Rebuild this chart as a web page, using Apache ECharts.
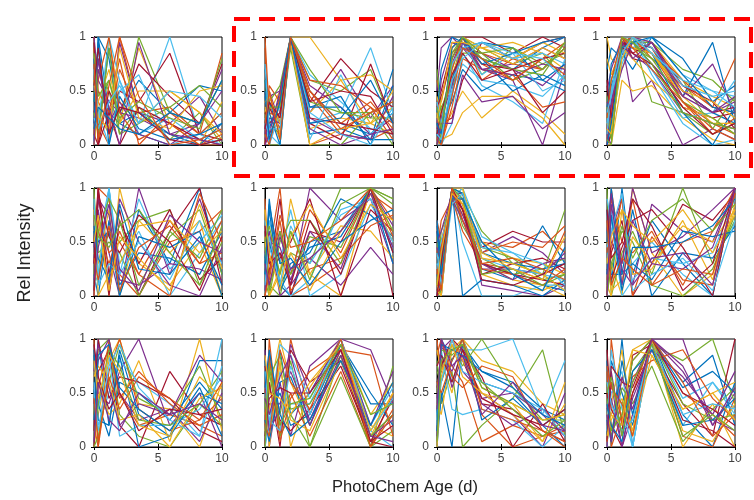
<!DOCTYPE html>
<html><head><meta charset="utf-8">
<script src="https://cdn.jsdelivr.net/npm/echarts@6/dist/echarts.min.js"></script>
<style>html,body{margin:0;padding:0;background:#fff}#c{width:754px;height:500px}</style>
</head><body><div id="c"></div>
<script>
const ages = [0, 0.33, 1.17, 2, 3.5, 5.92, 8.25, 10];
const xTicks = [0, 5, 10];
const yTicks = [0, 0.5, 1];
const xTitle = 'PhotoChem Age (d)';
const yTitle = 'Rel Intensity';
const colors = ['#0072BD','#D95319','#EDB120','#7E2F8E','#77AC30','#4DBEEE','#A2142F'];

const p1 = [[0,1,0.3,0.2,0.1,0,0,0.05],[1,0.2,0,1,0.3,0.1,0,0],[0.9,0,1,0.4,0.2,0.5,0.3,0.05],[0.2,0.8,0.1,0.95,0.3,0.2,0.45,0.1],[0.5,0.3,0.6,0.2,1,0.3,0.2,0.6],[0,0.9,0.2,0.6,0.2,1,0.1,0.3],[0.3,0.5,0.3,0.5,0.4,0.85,0.1,0.05],[0.8,0.1,0.9,0.3,0.6,0.3,0.55,0.5],[0.6,0.4,0.2,0.7,0.3,0.35,0.1,0.85],[0,0.3,0.1,0.2,0.9,0.2,0,0.4],[1,0.6,0.4,0.3,0.25,0.1,0.2,0.7],[0.4,0.7,0.5,0.1,0.35,0.05,0.3,0],[0.7,0.2,1,0.6,0.1,0.25,0.05,0.15],[0.1,0,0.5,0.3,0.75,0.45,0.2,0.75],[0.2,1,0.8,0.2,0.3,0.1,0,0.2],[0.9,0.5,0.3,0.8,0,0.3,0.1,0.3],[0,0.4,0.7,0.2,0.5,0.5,0.3,0.1],[0.5,0.8,0.2,0.4,0.1,0,0.2,0.5],[0.3,0.1,0.9,0.1,0.2,0.35,0.55,0.35],[0.7,0.3,0,0.5,0.65,0,0.1,0],
  [0.95,0,0.3,0,0.35,0.2,0.05,0],[0.4,0.95,0,0.45,0.15,0.05,0.1,0.2],[0.1,0.6,1,0.3,0.05,0.2,0,0.1],[0.6,0.25,0.15,0.9,0.25,0.15,0.5,0.55],[0,0.7,0.35,0,0.95,0.1,0.05,0],[0.85,0.45,0.6,0.25,0.4,0.25,0.15,0.8],[0.25,0.15,0.4,0.55,0.2,0.5,0.45,0.25],[0.55,0.9,0.1,0.35,0.3,0.05,0,0.05],[0.15,0.35,0.25,0.15,0.1,0.3,0.2,0.6],[0.75,0.05,0.55,1,0.45,0,0.05,0.15]];
const p2 = [[0.2,0.4,0.1,1,0.5,0.2,0.1,0.3],[0.9,0,0.4,1,0,0.1,0.05,0.15],[0.4,0.3,0.5,1,1,0.6,0.2,0.1],[0.1,0.5,0.2,1,0.3,0.7,0.25,0.55],[0.3,0,0,1,0.6,0.5,0.7,0.2],[0,0.2,0.35,1,0.2,0.3,0.9,0.3],[0.5,0.1,0.3,0.95,0.4,0.8,0.5,0.35],[0.7,0.4,0.2,1,0.1,0.15,0.05,0.7],[0,0.55,0.4,1,0.45,0.1,0.35,0.05],[0.35,0.3,0.05,1,0.3,0.6,0.65,0.5],[0.15,0.45,0.5,1,0.55,0.35,0.1,0.25],[0.6,0.2,0.1,0.9,0,0,0.3,0.4],[0.25,0,0.3,1,0.65,0.4,0.15,0.1],[0,0.35,0.15,1,0.2,0.05,0.75,0.2],[0.45,0.15,0.45,1,0.35,0.45,0,0.55],[1,0.3,0.25,0.98,0.5,0.2,0.4,0.15],[0.3,0.5,0.1,1,0.15,0.25,0.2,0.35],[0.05,0.25,0.2,0.95,0.25,0.1,0.05,0.45],[0.5,0.4,0.55,1,0.4,0.3,0.3,0],[0.2,0.1,0,1,0.05,0.65,0.1,0.3],
  [0.3,0.2,0.3,1,0.25,0.2,0.15,0.1],[0.6,0.3,0,1,0.35,0.35,0.05,0.05],[0.1,0,0.45,1,0.6,0.55,0.35,0.2],[0.4,0.45,0.2,0.95,0,0.15,0.2,0.5],[0,0.1,0.5,1,0.15,0,0.1,0.15],[0.25,0.35,0.35,1,0.7,0.3,0.25,0.25],[0.75,0.15,0.15,1,0.3,0.1,0,0.35],[0.15,0.4,0.25,0.98,0.4,0.5,0.45,0.1],[0.5,0.05,0.4,1,0.2,0.25,0.6,0.2],[0.2,0.5,0.05,1,0.5,0.15,0.3,0.4]];
const p3 = [[0.1,0,0.5,0.9,0.8,0.7,0.9,1],[0.3,0.2,0.8,1,0.6,0.8,0.7,0.9],[0,0.1,0.3,0.5,0.25,0.5,0.3,0.1],[0.5,0.9,1,0.9,0.7,0.6,0,0.7],[0.2,0.3,0.6,1,0.9,0.75,0.85,0.6],[0,0,0.2,0.85,0.55,0.4,0.2,0.8],[0.4,0.5,0.9,1,1,0.85,1,0.9],[0.1,0.2,0.4,0.7,0.5,0.65,0.6,0.5],[0.6,0.4,0.85,0.95,0.75,0.6,0.8,0.95],[0,0.05,0.1,0.3,0.45,0.45,0.25,0],[0.2,0.6,0.95,0.9,0.85,0.7,0.55,0.75],[0.7,0.3,0.7,1,0.65,0.9,0.75,0.85],[0.15,0.1,0.5,0.75,0.6,0.55,0.45,0.65],[0,0.2,0.25,0.6,0.95,0.8,0.95,1],[0.3,0.7,1,0.95,0.8,0.5,0.65,0.55],[0.05,0,0.35,0.8,0.7,0.65,0.35,0.4],[0.45,0.25,0.65,0.9,0.9,0.95,0.85,0.7],[0.1,0.15,0.75,1,0.7,0.75,0.9,0.8],[0.25,0.35,0.55,0.85,0.85,0.6,0.7,0.95],[0,0.1,0.45,0.95,0.65,0.85,0.5,0.6],[0.35,0.45,0.8,1,0.75,0.7,0.8,0.85],[0.2,0,0.6,0.9,0.95,0.9,0.6,0.75],
  [0.05,0.15,0.7,1,0.85,0.75,0.7,0.9],[0.3,0.05,0.9,1,0.9,0.8,0.95,0.85],[0.15,0.25,0.55,0.95,0.7,0.65,0.75,0.7],[0,0.1,0.85,1,0.8,0.7,0.65,0.95],[0.4,0.2,0.75,0.9,0.95,0.8,0.85,0.75],[0.1,0.3,0.65,0.85,0.6,0.7,0.3,0.5],[0.2,0.1,0.9,1,0.75,0.85,0.95,1],[0.05,0,0.45,0.9,0.8,0.6,0.8,0.65],[0.25,0.4,0.95,0.95,0.9,0.75,0.9,0.8],[0,0.2,0.2,0.65,0.4,0.45,0.15,0.3],[0.35,0.15,0.8,1,0.85,0.9,0.7,0.9],[0.1,0.05,0.6,0.8,0.95,0.85,0.8,0.6]];
const p4 = [[0,0.2,0.9,1,0.9,0.5,0.3,0.2],[0.3,0.5,1,0.95,0.85,0.4,0.2,0.1],[1,0.8,0.7,1,0.95,0.6,0.45,0.35],[0.1,0,0.95,0.4,0.6,0,0.15,0.05],[0.4,0.6,0.9,1,0.4,0.3,0.1,0.2],[0.2,0.3,0.85,0.9,1,0.65,0.5,0.45],[0,0.1,1,0.8,0.75,0.35,0.25,0.3],[0.7,0.9,0.8,0.95,0.9,0.45,0.95,0.2],[0.15,0.4,0.95,1,0.8,0.55,0.35,0.8],[0,0,0.6,0.5,0.55,0.25,0.05,0],[0.5,0.7,1,0.85,0.7,0.3,0.2,0.15],[0.25,0.45,0.9,0.95,0.95,0.7,0.6,0.4],[0.05,0.15,0.75,1,0.65,0.2,0,0.05],[0.6,0.3,0.95,0.9,0.85,0.5,0.3,0.35],[0.35,0.55,0.85,0.7,1,0.8,0.4,0.55],[0,0.25,1,1,0.9,0.4,0.1,0.25],[0.8,0.65,0.9,0.8,0.6,0.35,0.25,0.1],[0.1,0.35,0.7,0.95,0.75,0.45,0.75,0.3],[0.45,0.2,1,0.9,0.8,0.6,0.15,0.45],[0.2,0.5,0.8,1,0.7,0.25,0.3,0.6],[0,0.1,0.9,0.85,0.95,0.55,0.4,0.15],[0.3,0.75,0.95,1,0.85,0.3,0,0.35],
  [0.05,0.3,0.95,1,0.9,0.6,0.35,0.3],[0.2,0.15,1,0.9,0.85,0.45,0.2,0.2],[0,0.4,0.85,1,0.95,0.5,0.3,0.4],[0.35,0.05,0.9,0.95,0.8,0.4,0.25,0.1],[0.1,0.5,1,1,0.9,0.55,0.45,0.5],[0.55,0.25,0.95,0.85,0.75,0.35,0.1,0.2],[0,0.2,0.9,0.95,1,0.65,0.35,0.3],[0.25,0.6,1,0.9,0.7,0.4,0.15,0.05],[0.15,0.1,0.8,1,0.85,0.5,0.4,0.25],[0.4,0.35,0.95,0.8,0.95,0.45,0.3,0.45],[0.05,0,1,0.95,0.75,0.3,0.2,0.15],[0.3,0.45,0.85,1,0.85,0.6,0.5,0.35]];
const p5 = [[0.6,0.1,1,0,0.8,0.3,1,0.2],[0,1,0.9,0.2,0,0.5,0.6,0.8],[0.8,0.7,0,1,0.3,0.1,0.5,0],[0.3,0.9,0.4,0,1,0.2,0.9,0.3],[1,0.2,0.6,0.5,0.7,0.8,0.1,0.5],[0,0.5,1,0.3,0.6,0,0.4,0.7],[0.5,1,0.2,0.8,0,0.6,1,0.1],[0.2,0,0.7,0.1,0.4,0.35,0.2,0.6],[0.7,0.6,0.3,0.6,0.2,0.7,0.3,0.4],[0.4,0.3,0.8,0,0.7,0.4,0.7,0],[0,0.8,0.1,0.9,0.5,0.1,0,0.45],[0.9,0.4,0.5,0.4,0,0.55,0.8,0.2],[0.1,0.2,1,0.2,0.9,0.25,0.5,0.75],[0.3,1,0,0.7,0.3,0.8,0.15,0.35],[0.6,0.5,0.6,0,0.55,0.45,0.6,0],[0,0.7,0.4,0.5,0.2,0,0.95,0.5],[0.8,0,0.2,0.3,0.65,0.7,0.4,0.6],[0.45,0.9,0.75,0.15,0.1,0.3,0.25,0.15],
  [0.2,0.6,0.9,0.7,0.1,0.6,0.35,0.8],[0.9,0.1,0.3,0.2,0.5,0.15,0.7,0.3],[0.05,0.95,0.55,0.4,0.75,0.5,0.05,0.55],[0.65,0.35,0.15,0.85,0.25,0.2,0.55,0.1],[0.35,0.15,0.65,0.05,0.45,0.65,0.3,0.7],[0.5,0.75,0.05,0.55,0.35,0.05,0.85,0.25],[0.15,0.45,0.85,0.25,0.05,0.75,0.5,0.4],[0.75,0.55,0.45,0.65,0.8,0.4,0.1,0.65]];
const p6 = [[0.3,0.9,0.1,0,0.5,0.6,1,0.4],[0,0.4,1,0,0.1,0.3,0.95,0.8],[0.8,0,0.2,0.9,0.2,0,1,0.6],[0.1,0.3,0.6,0.1,1,0.7,0.9,0.3],[0.5,0.1,0,0.4,0.3,1,1,0.9],[0,0.7,0.3,0.8,0,0.2,0.85,0.5],[0.6,0.2,0.9,0,0.6,0.5,1,0],[0.2,0.5,0.1,0.3,0.4,0.9,0.75,0.55],[0.9,0.1,0.4,0.2,0.8,0.4,1,0.7],[0,0.35,0.2,0.6,0.2,0.65,0.6,0.35],[0.4,0.6,0,0.1,0.35,0.1,0.45,0.2],[0.15,0,0.5,0.7,0.7,0.3,1,0.85],[0.7,0.45,0.15,0,0.15,0.8,0.9,0.45],[0,0.25,0.35,0.5,0.9,0,0.8,0.6],[0.35,0.8,0.05,0.25,0.45,0.55,1,0.3],[0.25,0.15,0.7,0.05,0.25,0.35,0.65,0.75],[0.55,0,0.25,0.4,0.05,0.6,0.95,0.5],[0.05,0.5,0.45,0.15,0.6,0.25,1,0.65],
  [0.45,0.05,0.6,0.2,0.55,0.45,1,0.6],[0.1,0.55,0.1,0.65,0.3,0.75,0.9,0.5],[0.65,0.3,0.4,0.1,0.7,0.2,1,0.4],[0.2,0.85,0.3,0.35,0.1,0.5,0.7,0.8],[0,0.2,0.75,0.45,0.5,0.7,1,0.55],[0.8,0.4,0.05,0.55,0.85,0.35,0.85,0.7],[0.3,0.1,0.55,0.25,0.35,0.6,0.95,0.45],[0.5,0.65,0.2,0.6,0.15,0.85,1,0.9]];
const p7 = [[0.2,0,1,0.8,0.3,0.2,0.1,0.05],[0.7,0.5,0.95,0.9,0.5,0.45,0.6,0.4],[0,0.1,0.9,1,0.2,0.1,0.05,0.15],[0.5,0.3,1,0.7,0.4,0.55,0.4,0.2],[0.1,0.6,0.85,0.95,0.6,0.3,0.2,0.8],[0.3,0,1,0.5,0,0,0.1,0.1],[0.6,0.4,0.95,0.85,0.45,0.6,0.5,0.5],[0,0.2,1,0.9,0.25,0.15,0.65,0.3],[0.4,0.7,0.9,0.6,0.3,0.25,0.15,0.6],[0.15,0.1,1,0.75,0.5,0.35,0.3,0.2],[0,0.35,0.95,0.95,0.1,0.05,0,0.1],[0.55,0.05,1,0.65,0.35,0.2,0.25,0.35],[0.25,0.5,0.9,1,0.55,0.4,0.2,0.05],[0.05,0.15,0.95,0.8,0.2,0.3,0.35,0.25],[0.7,0.25,1,0,0.15,0.1,0,0.15],[0.35,0.45,0.85,0.9,0.4,0.5,0.45,0.65],[0.1,0,1,0.85,0.3,0.15,0.1,0],[0.45,0.3,0.9,0.7,0.25,0.25,0.2,0.4],[0,0.05,1,0.95,0.45,0.35,0.15,0.2],
  [0.3,0.2,1,0.9,0.35,0.25,0.2,0.15],[0,0.1,0.95,0.8,0.3,0.2,0.15,0.1],[0.65,0.35,1,0.95,0.4,0.3,0.25,0.3],[0.2,0.45,0.9,0.85,0.25,0.2,0.1,0.25],[0.05,0,1,1,0.35,0.3,0.2,0.05],[0.5,0.6,0.95,0.75,0.3,0.15,0.3,0.35],[0.15,0.25,1,0.9,0.2,0.25,0.1,0.2],[0.4,0.1,0.85,0.95,0.45,0.4,0.3,0.1],[0,0.3,1,0.8,0.15,0.1,0.2,0.3],[0.6,0.2,0.9,0.9,0.5,0.2,0.05,0.45],[0.25,0.05,1,0.7,0.3,0.35,0.25,0.15],[0.1,0.4,0.95,0.85,0.4,0.25,0.15,0.55]];
const p8 = [[0.8,0.1,1,0.2,0.7,0.3,0,1],[0,1,0.3,0.9,0.1,0.5,0.6,0.9],[0.5,0.3,0,1,0.4,0,0.2,0.8],[0.2,0.6,0.9,0.1,0.85,0.6,0.5,1],[1,0,0.4,0.6,0.2,1,0.3,0.7],[0.3,0.8,0.1,0.3,0.5,0.2,0,1],[0,0.4,0.7,0,0.3,0.85,0.7,0.95],[0.6,0.2,0.2,0.8,0,0.4,0.35,0.65],[0.4,0.9,0.5,0.4,0.6,0.1,0.6,1],[0.1,0,0.8,0.2,0.25,0.7,0.15,0.85],[0.7,0.5,0.3,1,0.4,0.55,0.8,1],[0,0.3,0.6,0.5,0.1,0,0.25,0.75],[0.9,0.7,0,0.15,0.35,0.3,0.4,0.9],[0.25,0.15,0.45,0.7,0.8,0.45,0,1],[0.5,1,0.2,0.3,0.15,0.6,0.55,0.6],[0.15,0.45,0.9,0,0.55,0.15,0.1,0.95],[0.35,0.05,0.15,0.55,0.3,0.65,0.5,0.8],
  [0.6,0.95,0.1,0.7,0.3,0.25,0.45,1],[0.05,0.25,0.65,0.35,0.7,0.9,0.6,0.85],[0.45,0.6,0.95,0.05,0.2,0.35,0.05,0.7],[0.8,0.35,0.5,0.9,0.65,0.05,0.3,1],[0.2,0.75,0.05,0.45,0.45,0.5,0.65,0.9],[0.7,0.1,0.35,0.25,0.1,0.25,0.2,0.95],[0.3,0.55,0.8,0.65,0.5,0.8,0.4,0.75],[0,0.85,0.25,0.1,0.35,0.4,0.1,1]];
const p9 = [[0.5,1,0.2,0.9,0.3,0.1,0.8,0.8],[1,0,1,0.5,0.2,0.3,0.2,0.1],[0,0.3,0.8,1,0.4,0.35,0,0.6],[0.8,0.5,0.4,0.7,1,0.2,0.5,0],[0.3,0.9,1,0.3,0.1,0,0.4,0.7],[0.6,0.2,0.5,0.8,0.6,0.4,0.1,1],[0,0.7,0.9,0.2,0,0.7,0.3,0.2],[0.9,0.4,0.1,0.6,0.5,0.25,0.6,0.35],[0.2,0,0.7,1,0.35,0.15,0.25,0.45],[0.7,0.6,0.3,0.4,0.8,0.05,1,0.15],[0.4,0.8,1,0.5,0.25,0.35,0.05,0.5],[0,0.1,0.6,0.95,0.45,0.3,0.75,0.25],[0.55,0.35,0.85,0.1,0.2,0.2,0.35,0.65],[0.15,1,0.45,0.65,0.6,0.45,0.15,0.05],[0.85,0.25,0.2,0.85,0,0.1,0.5,0.4],[0.3,0.55,0.95,0.45,0.7,0.4,0.2,0.3],[0.65,0.75,0.6,0.25,0.3,0,0.45,0.55],
  [0.7,0.95,0.55,0.2,0.4,0.3,0.85,0.6],[0.1,0.4,0.9,0.75,0.25,0.2,0.4,0.2],[0.5,0.15,0.75,0.95,0.55,0.25,0.1,0.75],[0.95,0.65,0.35,0.5,0.15,0.35,0.3,0.35],[0.25,0.85,0.95,0.55,0.35,0.15,0.55,0.1],[0.45,0.05,0.65,0.35,0.65,0.45,0.25,0.6],[0.8,0.45,0.85,0.7,0.2,0.1,0.65,0.45],[0.05,0.6,0.25,0.15,0.5,0.3,0.4,0.25]];
const p10 = [[0.7,0.2,0.9,0.3,0.5,1,0.1,0.3],[0,1,0.1,1,0.3,0.95,0,0.5],[0.3,0.5,1,0.6,0.2,0.9,0.2,0.1],[0.9,0,0.6,0.1,0.75,1,0.9,0.4],[0.1,0.8,0.3,0.8,0,0.85,0,0.75],[0.5,0.1,0.7,0.4,0.4,1,0.15,0],[0,0.6,0,0.9,0.6,0.8,0.05,0.45],[0.8,0.3,0.5,0.2,0.3,0.95,0.5,0.2],[0.2,0.9,0.2,0.5,0.1,0.7,0,0.35],[0.6,0,0.8,0,0.55,1,0.3,0.6],[0.05,0.4,0.4,0.7,0.25,0.9,0.1,0.25],[0.4,0.7,0.1,0.3,0,0.65,0,0.15],[0,0.2,0.95,0.85,0.45,1,0.2,0.55],[0.75,0.55,0.25,0.15,0.35,0.75,0.05,0],[0.25,0.05,0.6,0.65,0.2,0.95,0.4,0.4],[0.5,0.85,0.05,0.45,0.7,0.9,0.85,0.1],[0.15,0.35,0.75,0.25,0.15,0.8,0.1,0.5],[0.6,0.15,0.35,0.95,0.5,1,0.2,0.7],
  [0.35,0.65,0.85,0.35,0.4,0.85,0.1,0.3],[0.7,0.25,0.15,0.75,0.3,1,0.15,0.45],[0.1,0.45,0.55,0.5,0.5,0.9,0.05,0.2],[0.55,0.9,0.3,0.1,0.25,0.8,0.2,0.6],[0.2,0.1,0.9,0.6,0.35,1,0,0.3],[0.85,0.5,0.45,0.3,0.6,0.95,0.15,0.5],[0.45,0.3,0.65,0.85,0.2,0.85,0.1,0.05],[0,0.75,0.2,0.4,0.45,0.95,0.3,0.4]];
const p11 = [[0.3,1,0.8,1,0.6,0.5,0.2,0],[1,0.6,0.9,0.9,0.3,0,0.1,0.2],[0,0.8,0.5,1,0.8,0.7,0.4,0.3],[0.5,0.9,1,0.7,0.5,0.3,0,0.5],[0.8,0.4,0.7,0,0.2,0.45,0.9,0.1],[0.2,1,0.6,0.9,0.9,1,0.3,0.8],[0.6,0.7,1,0.8,0.4,0.35,0.15,0.05],[0,0.5,0,0.95,0.7,0.6,0.35,0.25],[0.9,0.8,0.75,0.6,0.05,0.2,0.1,0.15],[0.4,0.3,0.9,1,0.55,0.4,0.05,0.4],[0.1,1,0.55,0.85,0.45,0.5,0.3,0.1],[0.7,0.6,0.95,0.75,1,0.55,0.25,0.3],[0.25,0.9,0.35,0.3,0.35,0.25,0,0.2],[0.55,0.75,1,0.9,0.65,0,0.4,0.05],[0.15,0.45,0.8,1,0.25,0.45,0.2,0.35],[0.85,1,0.65,0.55,0.75,0.65,0.15,0],[0,0.65,1,0.8,0.5,0.3,0.05,0.6],[0.45,0.85,0.7,0.95,0.4,0.2,0.35,0.15],
  [0.5,0.9,0.85,0.95,0.55,0.4,0.25,0.25],[0.3,0.6,1,0.7,0.6,0.5,0.35,0.1],[0.75,0.85,0.6,0.9,0.45,0.3,0.2,0.35],[0.15,0.95,0.9,0.85,0.7,0.55,0.3,0.2],[0.6,0.5,0.8,1,0.35,0.25,0.15,0.05],[0.9,0.7,0.95,0.65,0.5,0.4,0.25,0.3],[0.35,1,0.75,0.85,0.3,0.6,0.2,0.15],[0.05,0.8,0.9,0.95,0.6,0.35,0.1,0.25]];
const p12 = [[0.8,0,1,0,1,0.3,0,0.6],[0,1,0.2,0.5,1,0.5,0.3,0.1],[0.4,0.3,0.6,0.9,1,0,0.4,0],[0.2,0.6,0,0.3,1,1,0.2,0.5],[0.6,0.1,0.4,0.7,0.95,0.8,1,0.4],[0,0.5,0.7,0,1,0.2,0.6,0.3],[0.5,0.2,0,0.5,0.9,0.4,0.1,1],[0.1,0.8,0.5,0.2,1,0.6,0.85,0.2],[0.7,0,0.3,0.8,1,0.1,0,0.45],[0.3,0.4,0.9,0.1,0.85,0.35,0.5,0.6],[0,0.7,0.1,0.6,1,0.7,0.25,0.15],[0.45,0.15,0.55,0.4,0.75,0.05,0.35,0.55],[0.15,0.9,0.35,0,1,0.45,0.6,0.35],[0.9,0.35,0.15,0.85,0.95,0.25,0.15,0],[0.25,0.05,0.8,0.3,1,0.55,0.7,0.5],[0.55,0.6,0.25,0.65,0.8,0.9,0.45,0.25],[0.05,0.25,0.45,0.15,1,0.15,0.05,0.4],[0.35,0.45,0,0.45,0.9,0.65,0.3,0.7],
  [0.2,0.15,0.3,0.8,1,0.4,0.25,0.3],[0.6,0.4,0.15,0.25,0.95,0.3,0.4,0.35],[0.05,0.75,0.6,0.55,1,0.5,0.35,0.2],[0.4,0.2,0.05,0.7,0.9,0.2,0.25,0.45],[0.75,0.55,0.4,0.1,1,0.6,0.1,0.3],[0.1,0.3,0.2,0.9,0.85,0.35,0.5,0.25],[0.3,0.05,0.65,0.35,1,0.75,0.2,0.55],[0.5,0.65,0.1,0.6,0.95,0.1,0.3,0.15]];

const panels = [p1,p2,p3,p4,p5,p6,p7,p8,p9,p10,p11,p12];

const lefts = [94, 265, 437, 607];
const tops = [37, 188, 339];
const W = 128, H = 108;
const font = 'Liberation Sans, Arial, sans-serif';
const grids = [], xAxes = [], yAxes = [], series = [];

panels.forEach((lines, i) => {
  const r = Math.floor(i / 4), c = i % 4;
  grids.push({left: lefts[c], top: tops[r], width: W, height: H, show: true, borderColor: '#000', borderWidth: 1, backgroundColor: '#fff'});
  const axBase = {min: 0, max: 10, interval: 5, gridIndex: i, splitLine: {show: false}};
  xAxes.push(Object.assign({type: 'value', position: 'bottom',
    axisLine: {show: true, lineStyle: {color: '#000', width: 1}},
    axisTick: {show: true, inside: true, length: 3, lineStyle: {color: '#000'}},
    axisLabel: {color: '#404040', fontSize: 12, fontFamily: font, margin: 6, formatter: v => xTicks.includes(v) ? String(v) : ''}}, axBase));
  xAxes.push(Object.assign({type: 'value', position: 'top',
    axisLine: {show: true, lineStyle: {color: '#000', width: 1}},
    axisTick: {show: true, inside: true, length: 3, lineStyle: {color: '#000'}},
    axisLabel: {show: false}}, axBase));
  const ayBase = {min: 0, max: 1, interval: 0.5, gridIndex: i, splitLine: {show: false}};
  yAxes.push(Object.assign({type: 'value', position: 'left',
    axisLine: {show: true, lineStyle: {color: '#000', width: 1}},
    axisTick: {show: true, inside: true, length: 3, lineStyle: {color: '#000'}},
    axisLabel: {color: '#404040', fontSize: 12, fontFamily: font, margin: 8, formatter: v => yTicks.includes(v) ? String(v) : ''}}, ayBase));
  yAxes.push(Object.assign({type: 'value', position: 'right',
    axisLine: {show: true, lineStyle: {color: '#000', width: 1}},
    axisTick: {show: true, inside: true, length: 3, lineStyle: {color: '#000'}},
    axisLabel: {show: false}}, ayBase));
  lines.forEach((vals, j) => {
    series.push({type: 'line', xAxisIndex: 2 * i, yAxisIndex: 2 * i, silent: true,
      showSymbol: false, symbol: 'none', animation: false, z: 2,
      lineStyle: {width: 1.2, color: colors[j % colors.length]},
      data: ages.map((a, k) => [a, vals[k]])});
  });
});

const chart = echarts.init(document.getElementById('c'), null, {renderer: 'canvas'});
chart.setOption({
  backgroundColor: '#fff',
  animation: false,
  grid: grids, xAxis: xAxes, yAxis: yAxes, series: series,
  graphic: [
    {type: 'text', x: 405, y: 487, style: {text: xTitle, fontSize: 16.5, fontFamily: font, fill: '#222', align: 'center', verticalAlign: 'middle'}},
    {type: 'text', x: 25, y: 253, rotation: Math.PI / 2, style: {text: yTitle, fontSize: 18, fontFamily: font, fill: '#222', align: 'center', verticalAlign: 'middle'}},
    {type: 'rect', z: 100, shape: {x: 234, y: 19, width: 517, height: 157}, style: {fill: 'none', stroke: '#f00', lineWidth: 4, lineDash: [16, 9]}}
  ]
});
</script></body></html>
